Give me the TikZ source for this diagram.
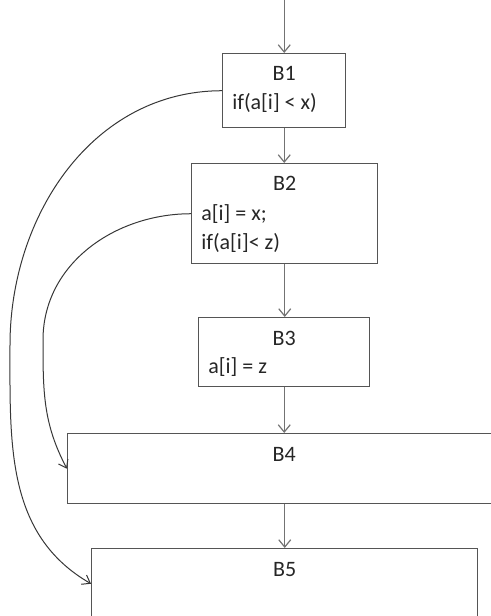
\documentclass[tikz,border=0pt]{standalone}
\usepackage{fontspec}
\setmainfont{Carlito}
\usepackage{tikz}
\usetikzlibrary{positioning, arrows.meta, calc}
\definecolor{boxborder}{RGB}{85,85,85}
\definecolor{arrowgray}{RGB}{115,115,115}
\definecolor{curvegray}{RGB}{55,55,55}
\tikzset{
  cfgbox/.style = {rectangle, draw=boxborder, line width=1.1pt, anchor=north west,
                   inner sep=0pt},
  cfgtitle/.style = {anchor=base, inner sep=0pt, text=black!85,
                     font=\fontsize{16.5}{21}\selectfont},
  cfgcode/.style = {anchor=base west, inner sep=0pt, align=left, text=black!85,
                    font=\fontsize{16.5}{21}\selectfont},
  cfgarrow/.style = {-{Straight Barb[length=5.5pt,width=9pt]}, line width=0.9pt, draw=arrowgray},
  backedge/.style = {-{Straight Barb[length=5.5pt,width=8pt]}, line width=0.75pt, draw=curvegray}
}

\begin{document}
\begin{tikzpicture}[x=0.75pt, y=0.75pt]
\clip (0,0) rectangle (491,-616);
% basic blocks
\node[cfgbox, minimum width=92.25pt, minimum height=55.5pt]  (b1) at (222,-53) {};
\node[cfgbox, minimum width=139.5pt, minimum height=75pt]    (b2) at (191,-163) {};
\node[cfgbox, minimum width=128.25pt, minimum height=51.75pt] (b3) at (198,-317) {};
\node[cfgbox, minimum width=347.25pt, minimum height=52.5pt] (b4) at (67,-433) {};
\node[cfgbox, minimum width=289.5pt, minimum height=52.5pt]  (b5) at (91,-548) {};

% block texts
\node[cfgtitle] (t1) at ([yshift=-21pt]b1.north) {B1};
\node[cfgtitle] (t2) at ([yshift=-21pt]b2.north) {B2};
\node[cfgtitle] (t3) at ([yshift=-21pt]b3.north) {B3};
\node[cfgtitle] (t4) at ($(b4.north -| b3.south)+(0,-28)$) {B4};
\node[cfgtitle] (t5) at ([yshift=-21pt]b5.north) {B5};
\node[cfgcode] (c1) at ([xshift=7.5pt, yshift=-42.75pt]b1.north west) {if(a[i] < x)};
% base of a two-line node sits on its last line
\node[cfgcode] (c2) at ([xshift=7.5pt, yshift=-64.5pt]b2.north west) {a[i] = x;\\ if(a[i]< z)};
\node[cfgcode] (c3) at ([xshift=7.5pt, yshift=-42pt]b3.north west) {a[i] = z};

% flow edges
\coordinate (entry) at ([yshift=39.75pt]b1.north);
\draw[cfgarrow] (entry) -- (b1.north);
\draw[cfgarrow] (b1.south) -- (b1.south |- b2.north);
\draw[cfgarrow] (b2.south) -- (b2.south |- b3.north);
\draw[cfgarrow] (b3.south) -- (b3.south |- b4.north);
\draw[cfgarrow] (b5.north |- b4.south) -- (b5.north);

% jumps around
\coordinate (bendA) at (10,-345);
\coordinate (bendB) at (43,-340);
\draw[backedge] (b1.west) to[out=180, in=90] (bendA) to[out=-90, in=150] (b5.west);
\draw[backedge] (b2.west) to[out=180, in=90] (bendB) to[out=-90, in=118] (b4.west);
\end{tikzpicture}
\end{document}
